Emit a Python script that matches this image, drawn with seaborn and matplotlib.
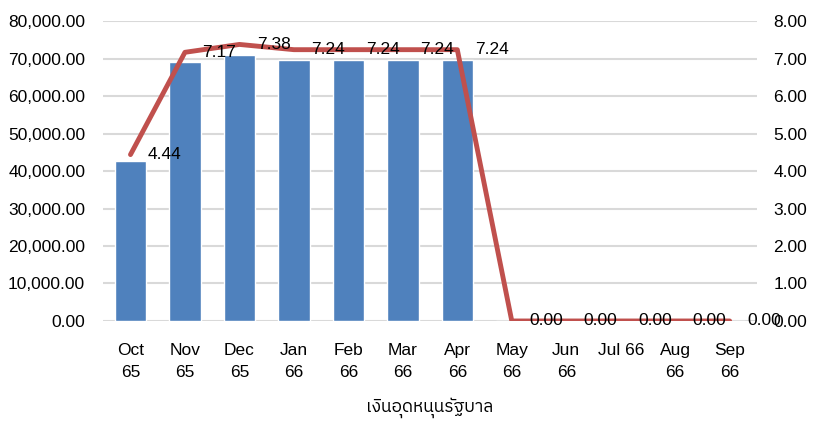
import numpy as np
import matplotlib
matplotlib.use("Agg")
import matplotlib.pyplot as plt
import seaborn as sns
from matplotlib import font_manager
from matplotlib.ft2font import FT2Font
from matplotlib.ticker import FuncFormatter, MultipleLocator

months = ["Oct\n65", "Nov\n65", "Dec\n65", "Jan\n66", "Feb\n66", "Mar\n66",
          "Apr\n66", "May\n66", "Jun\n66", "Jul 66", "Aug\n66", "Sep\n66"]
subsidy = [42600, 69100, 70900, 69700, 69700, 69700, 69700, 0, 0, 0, 0, 0]
rate = [4.44, 7.17, 7.38, 7.24, 7.24, 7.24, 7.24, 0, 0, 0, 0, 0]
xlabel = "เงินอุดหนุนรัฐบาล"


def find_thai_font():
    # look for any installed family that has the Thai glyphs
    names = []
    for f in font_manager.fontManager.ttflist:
        try:
            cmap = FT2Font(f.fname).get_charmap()
        except Exception:
            continue
        if all(ord(c) in cmap for c in set(xlabel)):
            names.append(f.name)
    pref = [n for n in names if "Thai" in n]
    return (pref or names or ["DejaVu Sans"])[0]


thai_font = find_thai_font()

sns.set_style("white")
plt.rcParams['font.family'] = ['Liberation Sans', thai_font, 'DejaVu Sans']
plt.rcParams['text.color'] = 'black'
plt.rcParams['xtick.color'] = 'black'
plt.rcParams['ytick.color'] = 'black'

fig = plt.figure(figsize=(8.13, 4.24), dpi=100)
ax = fig.add_axes([0.127, 0.243, 0.804, 0.707])
ax2 = ax.twinx()

xpos = np.arange(len(months))
sns.barplot(x=xpos, y=subsidy, color="#4F81BD", saturation=1, width=0.58, ax=ax, zorder=2)
sns.lineplot(x=xpos, y=rate, color="#C0504D", linewidth=3.5, ax=ax2, zorder=3)

ax.set_ylim(0, 80000)
ax2.set_ylim(0, 8)
ax.set_xlim(-0.5, len(months) - 0.5)
ax.yaxis.set_major_locator(MultipleLocator(10000))
ax2.yaxis.set_major_locator(MultipleLocator(1))
ax.yaxis.set_major_formatter(FuncFormatter(lambda v, p: f"{v:,.2f}"))
ax2.yaxis.set_major_formatter(FuncFormatter(lambda v, p: f"{v:.2f}"))
ax.grid(axis="y", color="#D9D9D9", linewidth=1.5, zorder=0)
ax.set_axisbelow(True)

ax.set_xticks(xpos)
ax.set_xticklabels(months, va="top", linespacing=1.6)
ax.tick_params(axis="x", length=0, pad=16, labelsize=12.5, colors="black")
ax.tick_params(axis="y", length=0, pad=13, labelsize=12.5, colors="black")
ax2.tick_params(axis="y", length=0, pad=12, labelsize=12.5, colors="black")
for a in (ax, ax2):
    for s in a.spines.values():
        s.set_visible(False)

for x, v in zip(xpos, rate):
    ax2.text(x + 0.32, v, f"{v:.2f}", ha="left", va="center", fontsize=12.5,
             color="black", zorder=4)

ax.set_xlabel(xlabel, fontsize=12.5, labelpad=12, color="black",
              family=[thai_font, 'DejaVu Sans'])
ax.set_ylabel("")
ax2.set_ylabel("")

fig.savefig("out.png", dpi=100)
